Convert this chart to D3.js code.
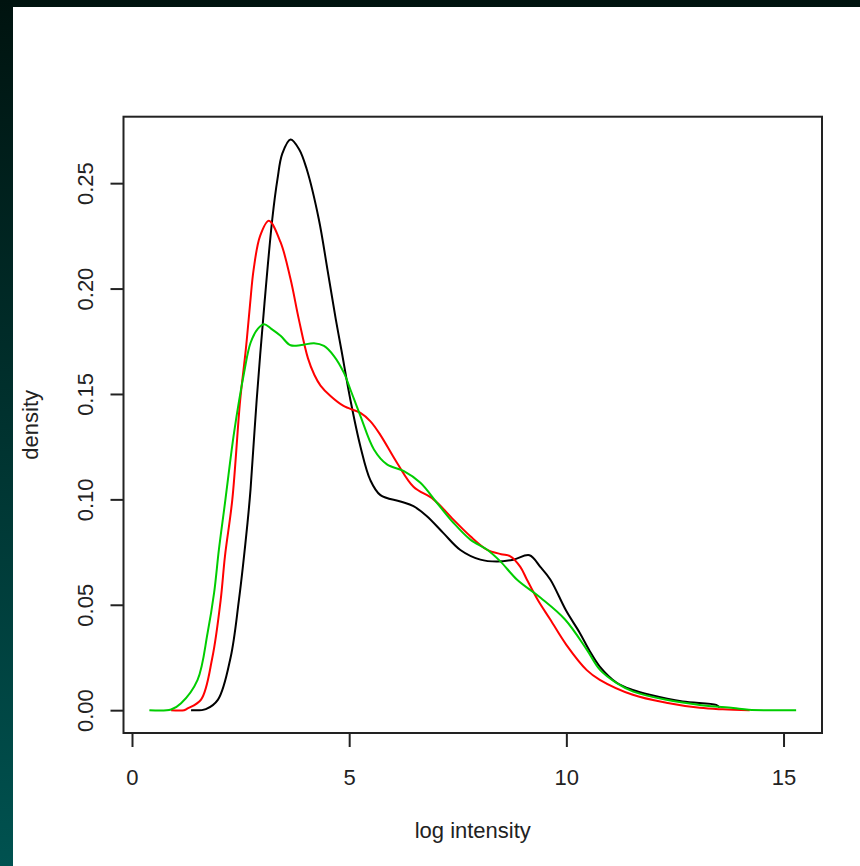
<!DOCTYPE html>
<html>
<head>
<meta charset="utf-8">
<script src="https://cdn.jsdelivr.net/npm/d3@7"></script>
<style>
  html, body { margin: 0; padding: 0; background: #001412; }
  text { font-family: "Liberation Sans", Arial, Helvetica, sans-serif; fill: #222; }
</style>
</head>
<body>
<div class="graph"></div>
<script>
// density curves, one x/y pair of arrays per sample

var blackX = [1.36, 1.70, 1.98, 2.27, 2.46, 2.66, 2.73, 2.87, 3.05, 3.23, 3.35, 3.46, 3.65, 3.85, 4.02, 4.30, 4.50, 4.69, 4.82, 5.03, 5.26, 5.49, 5.72, 6.18, 6.48, 6.79, 7.17, 7.56, 8.02, 8.40, 8.78, 9.15, 9.40, 9.63, 10.00, 10.30, 10.54, 10.77, 11.16, 11.53, 11.92, 12.68, 13.45, 13.53];
var blackY = [0, 0.0005, 0.005, 0.025, 0.052, 0.089, 0.105, 0.147, 0.193, 0.233, 0.252, 0.264, 0.2707, 0.266, 0.2568, 0.233, 0.209, 0.1856, 0.171, 0.147, 0.125, 0.109, 0.102, 0.099, 0.0968, 0.092, 0.084, 0.076, 0.0714, 0.0705, 0.0714, 0.0735, 0.068, 0.062, 0.047, 0.037, 0.028, 0.0207, 0.013, 0.0096, 0.0073, 0.0041, 0.0025, 0.0012];

var redX = [0.90, 1.20, 1.28, 1.59, 1.85, 2.04, 2.14, 2.31, 2.49, 2.62, 2.72, 2.80, 2.95, 3.15, 3.42, 3.65, 3.84, 4.05, 4.20, 4.34, 4.57, 4.87, 5.26, 5.49, 5.72, 6.10, 6.48, 6.94, 7.40, 7.79, 8.17, 8.50, 8.71, 8.94, 9.09, 9.35, 9.63, 10.00, 10.47, 10.77, 11.53, 12.30, 13.07, 13.60, 14.22];
var redY = [0, 0, 0.0008, 0.005, 0.025, 0.052, 0.073, 0.100, 0.147, 0.171, 0.193, 0.209, 0.225, 0.2322, 0.222, 0.2045, 0.1855, 0.167, 0.159, 0.154, 0.149, 0.1443, 0.141, 0.137, 0.1305, 0.1174, 0.106, 0.100, 0.0904, 0.0825, 0.0762, 0.074, 0.073, 0.068, 0.062, 0.052, 0.043, 0.031, 0.019, 0.0144, 0.0073, 0.0035, 0.0011, 0.0004, 0];

var greenX = [0.40, 0.90, 1.13, 1.51, 1.74, 1.89, 2.00, 2.12, 2.18, 2.35, 2.58, 2.73, 2.90, 3.04, 3.20, 3.42, 3.65, 3.90, 4.19, 4.42, 4.65, 4.88, 5.03, 5.26, 5.57, 5.87, 6.26, 6.64, 7.02, 7.40, 7.79, 8.17, 8.48, 8.86, 9.40, 9.97, 10.47, 10.77, 11.16, 11.54, 12.30, 13.07, 13.84, 14.20, 15.29];
var greenY = [0, 0.0003, 0.0033, 0.0144, 0.0366, 0.0556, 0.076, 0.095, 0.1047, 0.1317, 0.160, 0.1743, 0.181, 0.1831, 0.181, 0.1776, 0.1731, 0.1732, 0.1741, 0.1728, 0.168, 0.160, 0.152, 0.1395, 0.1237, 0.1166, 0.1134, 0.1079, 0.0984, 0.0889, 0.0809, 0.0762, 0.0706, 0.062, 0.0534, 0.043, 0.0287, 0.0192, 0.0128, 0.0088, 0.0049, 0.0025, 0.001, 0.0002, 0];

var xTicks = [0, 5, 10, 15];
var yTicks = [0, 0.05, 0.10, 0.15, 0.20, 0.25];
var yTickLabels = ["0.00", "0.05", "0.10", "0.15", "0.20", "0.25"];

var series = [
  {name: "black", xs: blackX, ys: blackY, color: "#000000"},
  {name: "red", xs: redX, ys: redY, color: "#ff0000"},
  {name: "green", xs: greenX, ys: greenY, color: "#00cd00"}
];

var W = 860, H = 866;
var box = {left: 123.5, top: 116.7, right: 822, bottom: 733};

let svg = d3.select(".graph").append("svg")
    .attr("width", W)
    .attr("height", H)
    .style("display", "block");

// dark window backdrop, fading to teal at the bottom left
let grad = svg.append("defs").append("linearGradient")
    .attr("id", "bg")
    .attr("x1", 0).attr("y1", 0).attr("x2", 0).attr("y2", 1);
grad.append("stop").attr("offset", "0%").attr("stop-color", "#00130f");
grad.append("stop").attr("offset", "100%").attr("stop-color", "#005250");

svg.append("rect").attr("width", W).attr("height", H).attr("fill", "url(#bg)");
svg.append("rect").attr("x", 13).attr("y", 7).attr("width", W - 13).attr("height", H - 7).attr("fill", "white");

// R style limits: data range padded by 4% each side
let allX = blackX.concat(redX, greenX);
let allY = blackY.concat(redY, greenY);
let xr = d3.extent(allX), yr = d3.extent(allY);
let xPad = (xr[1] - xr[0]) * 0.04, yPad = (yr[1] - yr[0]) * 0.04;

let x = d3.scaleLinear().domain([xr[0] - xPad, xr[1] + xPad]).range([box.left, box.right]);
let y = d3.scaleLinear().domain([yr[0] - yPad, yr[1] + yPad]).range([box.bottom, box.top]);

let line = d3.line()
    .x(function(d) { return x(d[0]); })
    .y(function(d) { return y(d[1]); })
    .curve(d3.curveCatmullRom.alpha(0.5));

series.forEach(function(s) {
    let pts = s.xs.map(function(v, i) { return [v, s.ys[i]]; });
    svg.append("path")
        .datum(pts)
        .attr("fill", "none")
        .attr("stroke", s.color)
        .attr("stroke-width", 2)
        .attr("d", line);
});

// x axis
let xAxis = svg.append("g")
    .attr("transform", "translate(0," + box.bottom + ")")
    .call(d3.axisBottom(x).tickValues(xTicks).tickSize(14).tickFormat(d3.format("d")));
xAxis.select(".domain").remove();
xAxis.selectAll("line").attr("stroke", "#222").attr("stroke-width", 2);
xAxis.selectAll("text")
    .attr("y", 52).attr("dy", 0)
    .attr("font-size", 22);

// y axis, labels turned sideways like base R
let yAxis = svg.append("g")
    .attr("transform", "translate(" + box.left + ",0)")
    .call(d3.axisLeft(y).tickValues(yTicks).tickSize(13).tickFormat(function(d, i) { return yTickLabels[i]; }));
yAxis.select(".domain").remove();
yAxis.selectAll("line").attr("stroke", "#222").attr("stroke-width", 2);
yAxis.selectAll("text")
    .attr("x", 0).attr("y", 0).attr("dy", 0)
    .attr("text-anchor", "middle")
    .attr("transform", "translate(-31,0) rotate(-90)")
    .attr("font-size", 22);

// plot frame
svg.append("rect")
    .attr("x", box.left).attr("y", box.top)
    .attr("width", box.right - box.left).attr("height", box.bottom - box.top)
    .attr("fill", "none")
    .attr("stroke", "#222")
    .attr("stroke-width", 2);

svg.append("text")
    .attr("x", (box.left + box.right) / 2)
    .attr("y", 838)
    .attr("text-anchor", "middle")
    .attr("font-size", 22)
    .text("log intensity");

svg.append("text")
    .attr("text-anchor", "middle")
    .attr("transform", "translate(38," + ((box.top + box.bottom) / 2) + ") rotate(-90)")
    .attr("font-size", 22)
    .text("density");
</script>
</body>
</html>
